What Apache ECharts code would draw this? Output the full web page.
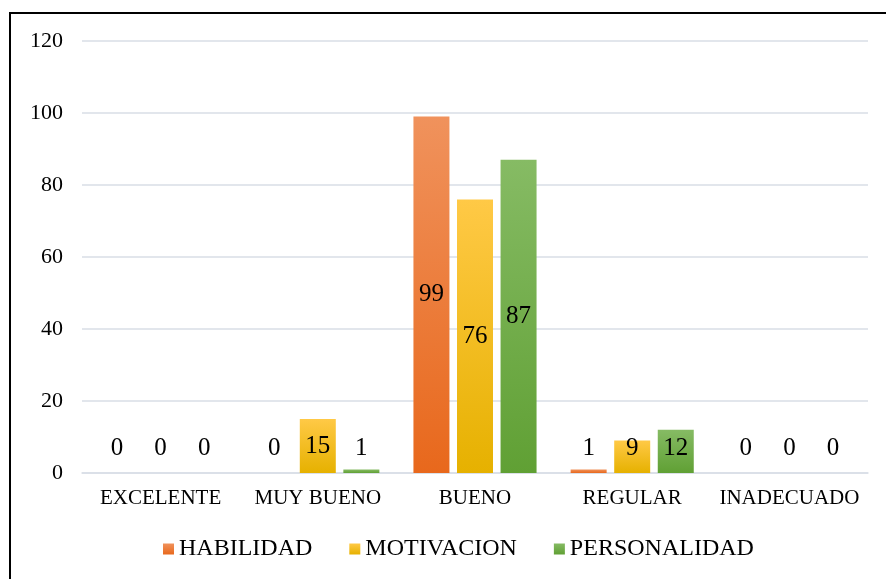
<!DOCTYPE html>
<html>
<head>
<meta charset="utf-8">
<script src="https://cdn.jsdelivr.net/npm/echarts@6/dist/echarts.min.js"></script>
<style>
html,body{margin:0;padding:0;background:#fff;}
#main{width:886px;height:579px;}
</style>
</head>
<body>
<div id="main"></div>
<script>
const categories = ['EXCELENTE', 'MUY BUENO', 'BUENO', 'REGULAR', 'INADECUADO'];
const seriesNames = ['HABILIDAD', 'MOTIVACION', 'PERSONALIDAD'];
const habilidad = [0, 0, 99, 1, 0];
const motivacion = [0, 15, 76, 9, 0];
const personalidad = [0, 1, 87, 12, 0];
const yTicks = [0, 20, 40, 60, 80, 100, 120];

const gradients = [
  ['#F0925C', '#E8681C'],
  ['#FFC946', '#E6B100'],
  ['#86BB64', '#60A034']
];
const values = [habilidad, motivacion, personalidad];
const FONT = '"Liberation Serif", "Times New Roman", serif';

function makeData(arr) {
  return arr.map(v => v < 15
    ? { value: v, label: { position: 'insideBottom', distance: 12 } }
    : { value: v });
}

const chart = echarts.init(document.getElementById('main'), null, { renderer: 'canvas' });
chart.setOption({
  backgroundColor: '#fff',
  animation: false,
  graphic: [{
    type: 'rect',
    shape: { x: 10, y: 13, width: 900, height: 600 },
    style: { fill: 'none', stroke: '#000', lineWidth: 2 },
    silent: true
  }],
  grid: { left: 82, right: 18, top: 41, bottom: 106, containLabel: false },
  legend: {
    data: seriesNames,
    bottom: 13,
    left: 158,
    itemWidth: 11,
    itemHeight: 11,
    itemGap: 37,
    icon: 'rect',
    textStyle: { fontFamily: FONT, fontSize: 24, color: '#000' }
  },
  xAxis: {
    type: 'category',
    data: categories,
    axisLine: { show: true, lineStyle: { color: '#D9DEE6', width: 1.5 } },
    axisTick: { show: false },
    axisLabel: { fontFamily: FONT, fontSize: 21, color: '#000', margin: 15, interval: 0 }
  },
  yAxis: {
    type: 'value',
    min: yTicks[0],
    max: yTicks[yTicks.length - 1],
    interval: 20,
    axisLine: { show: false },
    axisTick: { show: false },
    axisLabel: { fontFamily: FONT, fontSize: 22, color: '#000', margin: 19 },
    splitLine: { lineStyle: { color: '#D9DEE6', width: 1.5 } }
  },
  series: seriesNames.map((name, i) => ({
    name: name,
    type: 'bar',
    data: makeData(values[i]),
    barWidth: 36,
    barGap: '21%',
    itemStyle: {
      color: new echarts.graphic.LinearGradient(0, 0, 0, 1, [
        { offset: 0, color: gradients[i][0] },
        { offset: 1, color: gradients[i][1] }
      ])
    },
    label: {
      show: true,
      position: 'inside',
      fontFamily: FONT,
      fontSize: 25,
      color: '#000'
    }
  }))
});
</script>
</body>
</html>
